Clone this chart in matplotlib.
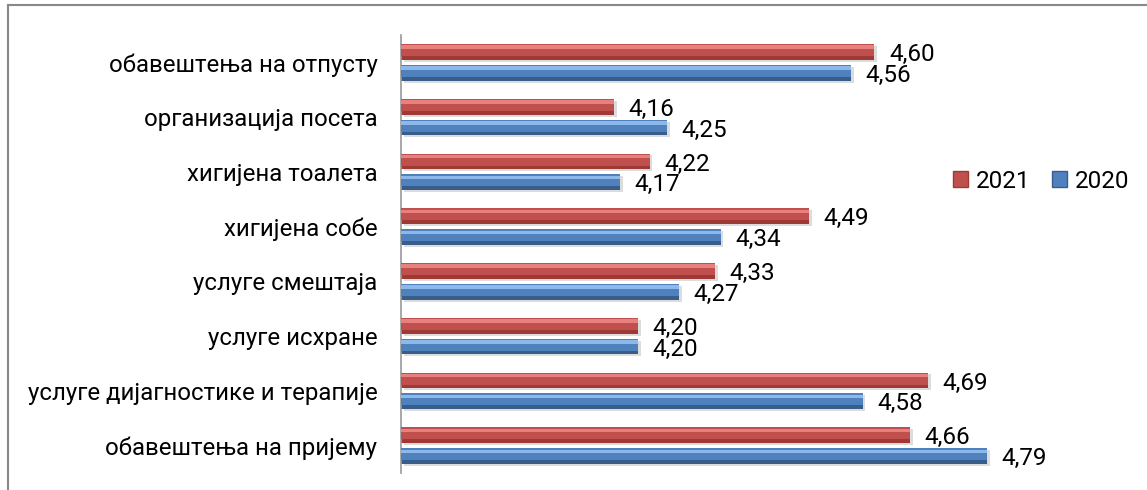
import matplotlib.pyplot as plt
import numpy as np
from matplotlib.patches import Patch
from matplotlib.lines import Line2D

plt.rcParams['font.family'] = ['Roboto', 'DejaVu Sans']

# Data (top to bottom as in the chart)
categories = ['обавештења на отпусту', 'организација посета', 'хигијена тоалета',
              'хигијена собе', 'услуге смештаја', 'услуге исхране',
              'услуге дијагностике и терапије', 'обавештења на пријему']
vals_2021 = [4.60, 4.16, 4.22, 4.49, 4.33, 4.20, 4.69, 4.66]
vals_2020 = [4.56, 4.25, 4.17, 4.34, 4.27, 4.20, 4.58, 4.79]

x_min, x_max = 3.8, 5.0

# colours: (dark, mid, light)
red = ('#9E3936', '#C0504D', '#E8807D')
blue = ('#385D8A', '#4F81BD', '#8DB8EC')

fig = plt.figure(figsize=(11.47, 4.9), dpi=100)
ax = fig.add_axes([401 / 1147, 17 / 490, 710 / 1147, 438 / 490])

n = len(categories)
y = np.arange(n)[::-1]
h = 0.29
off = 0.19


def fancy_bars(ypos, vals, cols):
    left = x_min
    widths = [v - left for v in vals]
    # soft shadow
    ax.barh(ypos - 0.035, widths, height=h, left=left + 0.005, color='#dcdcdc', zorder=1)
    # dark base
    ax.barh(ypos, widths, height=h, left=left, color=cols[0], zorder=2)
    # mid tone on upper part
    ax.barh(ypos + h * 0.12, widths, height=h * 0.76, left=left, color=cols[1], zorder=3)
    # highlight stripe near top
    ax.barh(ypos + h * 0.3, widths, height=h * 0.22, left=left, color=cols[2], zorder=4)


fancy_bars(y + off, vals_2021, red)
fancy_bars(y - off, vals_2020, blue)


def fmt(v):
    return f'{v:.2f}'.replace('.', ',')


for yi, v in zip(y + off, vals_2021):
    ax.annotate(fmt(v), (v, yi), xytext=(10.5, 0), textcoords='offset points',
                ha='left', va='center_baseline', fontsize=17.5, color='black')
for yi, v in zip(y - off, vals_2020):
    ax.annotate(fmt(v), (v, yi), xytext=(10.5, 0), textcoords='offset points',
                ha='left', va='center_baseline', fontsize=17.5, color='black')

ax.set_xlim(x_min, x_max)
ax.set_ylim(-0.5, n - 0.5)
ax.set_yticks(y)
ax.set_yticklabels(categories, fontsize=17.3)
ax.tick_params(axis='y', length=0, pad=17)
ax.set_xticks([])
for s in ['top', 'right', 'bottom']:
    ax.spines[s].set_visible(False)
ax.spines['left'].set_color('#999999')
ax.spines['left'].set_linewidth(1.2)

# legend
handles = [Patch(facecolor=red[1], edgecolor=red[0], label='2021'),
           Patch(facecolor=blue[1], edgecolor=blue[0], label='2020')]
fig.legend(handles=handles, loc='center left', bbox_to_anchor=(953 / 1147, 1 - 181 / 490),
           ncol=2, frameon=False, fontsize=17.5, handlelength=0.62, handleheight=0.62,
           handletextpad=0.33, columnspacing=0.86, borderpad=0, borderaxespad=0)

# outer frame (top and left edges visible)
fig.add_artist(Line2D([8 / 1147, 1], [1 - 5.5 / 490] * 2, transform=fig.transFigure,
                      color='#888888', linewidth=1.5))
fig.add_artist(Line2D([8 / 1147] * 2, [0, 1 - 5.5 / 490], transform=fig.transFigure,
                      color='#888888', linewidth=1.5))

fig.savefig('out.png', dpi=100)
